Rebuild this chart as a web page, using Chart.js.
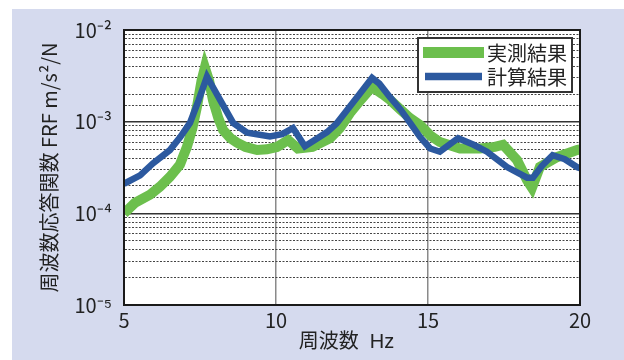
<!DOCTYPE html>
<html>
<head>
<meta charset="utf-8">
<script src="https://cdn.jsdelivr.net/npm/chart.js@4"></script>
<style>
html,body{margin:0;padding:0;background:#fff;}
canvas{display:block;}
</style>
</head>
<body>
<canvas id="c" width="624" height="360"></canvas>
<script>
// ---- data ----
const seriesLabels = ['実測結果', '計算結果'];
const measuredHz = [5.0, 5.36, 5.86, 6.18, 6.51, 6.84, 7.07, 7.25, 7.4, 7.55, 7.66, 7.8, 7.93, 8.1, 8.26, 8.5, 8.72, 9.0, 9.38, 9.7, 10.03, 10.4, 10.72, 11.2, 11.78, 12.1, 12.43, 12.8, 13.16, 13.5, 13.75, 14.1, 14.4, 14.74, 15.07, 15.39, 16.05, 16.71, 17.2, 17.47, 17.93, 18.26, 18.42, 18.68, 19.24, 19.9, 20.0];
const measuredFRF = [1.0e-4, 1.3e-4, 1.6e-4, 1.95e-4, 2.5e-4, 3.4e-4, 5.3e-4, 8.5e-4, 1.45e-3, 2.8e-3, 3.9e-3, 2.8e-3, 1.7e-3, 1.1e-3, 8.1e-4, 6.6e-4, 5.9e-4, 5.3e-4, 4.9e-4, 5.0e-4, 5.3e-4, 6.3e-4, 5.1e-4, 5.3e-4, 6.6e-4, 8.5e-4, 1.24e-3, 1.75e-3, 2.4e-3, 2.0e-3, 1.73e-3, 1.35e-3, 1.1e-3, 9.2e-4, 7.1e-4, 6.0e-4, 5.1e-4, 5.1e-4, 5.3e-4, 5.6e-4, 3.8e-4, 2.3e-4, 1.9e-4, 3.2e-4, 4.1e-4, 4.9e-4, 5.0e-4];
const calcHz = [5.0, 5.53, 5.95, 6.51, 6.85, 7.17, 7.45, 7.73, 7.95, 8.16, 8.59, 9.05, 9.8, 10.2, 10.56, 10.95, 11.3, 11.68, 12.0, 12.34, 12.75, 13.16, 13.4, 13.75, 14.1, 14.41, 14.74, 15.07, 15.39, 15.99, 16.5, 16.94, 17.6, 18.26, 18.45, 18.75, 19.1, 19.5, 19.9, 20.0];
const calcFRF = [2.1e-4, 2.6e-4, 3.5e-4, 4.9e-4, 6.8e-4, 9.7e-4, 1.7e-3, 3.1e-3, 2.3e-3, 1.73e-3, 9.7e-4, 7.6e-4, 6.9e-4, 7.3e-4, 8.5e-4, 5.4e-4, 6.4e-4, 7.7e-4, 9.6e-4, 1.34e-3, 2.0e-3, 3.0e-3, 2.6e-3, 1.85e-3, 1.35e-3, 9.7e-4, 6.8e-4, 5.1e-4, 4.7e-4, 6.6e-4, 5.6e-4, 4.7e-4, 3.2e-4, 2.45e-4, 2.45e-4, 3.3e-4, 4.3e-4, 3.9e-4, 3.2e-4, 3.1e-4];
const xTicks = [5, 10, 15, 20];
const yExponents = [-5, -4, -3, -2];
const yTickLabels = ['10⁻⁵', '10⁻⁴', '10⁻³', '10⁻²'];
const xTitle = '周波数  Hz  ';
const yTitle = '周波数応答関数 FRF m/s²/N';

const GREEN = '#6cbf4d';
const BLUE = '#2c599f';
const LAVENDER = '#d5daee';
const NARROW = '"Liberation Sans Narrow", "Noto Sans CJK JP", sans-serif';
const SANS = '"Liberation Sans", "Noto Sans CJK JP", sans-serif';
const CJK = '"Noto Sans CJK JP", sans-serif';

const toXY = (xs, ys) => xs.map((x, i) => ({x: x, y: ys[i]}));

function yLabel(v) {
  const e = Math.round(Math.log10(v));
  if (Math.abs(v / Math.pow(10, e) - 1) > 1e-6) return '';
  const i = yExponents.indexOf(e);
  return i >= 0 ? yTickLabels[i] : '';
}

const bgPlugin = {
  id: 'bg',
  beforeDraw(chart) {
    const c = chart.ctx, a = chart.chartArea;
    c.save();
    c.fillStyle = '#ffffff';
    c.fillRect(0, 0, chart.width, chart.height);
    c.fillStyle = LAVENDER;
    c.fillRect(12, 9, chart.width - 12, chart.height - 9);
    c.fillStyle = '#ffffff';
    c.fillRect(a.left, a.top, a.right - a.left, a.bottom - a.top);
    c.restore();
  },
  afterDatasetsDraw(chart) {
    const c = chart.ctx, a = chart.chartArea;
    c.save();
    c.strokeStyle = '#1a1a1a';
    c.lineWidth = 2;
    c.strokeRect(a.left, a.top, a.right - a.left, a.bottom - a.top);
    // legend
    const bx = 418, by = 38, bw = 154, bh = 54;
    c.fillStyle = '#ffffff';
    c.fillRect(bx, by, bw, bh);
    c.strokeStyle = '#333';
    c.lineWidth = 2;
    c.strokeRect(bx, by, bw, bh);
    const rows = [52.5, 76.5];
    const starts = [423, 425], ends = [484, 482];
    chart.data.datasets.forEach((ds, i) => {
      c.strokeStyle = ds.borderColor;
      c.lineWidth = ds.borderWidth + 1;
      c.lineCap = 'butt';
      c.beginPath();
      c.moveTo(starts[i], rows[i]);
      c.lineTo(ends[i], rows[i]);
      c.stroke();
      c.fillStyle = '#222';
      c.font = '20px ' + CJK;
      c.textAlign = 'left';
      c.textBaseline = 'middle';
      c.fillText(ds.label, 487, rows[i] + 0.5);
    });
    c.restore();
  }
};

new Chart(document.getElementById('c'), {
  type: 'line',
  data: {
    datasets: [
      {label: seriesLabels[0], data: toXY(measuredHz, measuredFRF), order: 1, borderColor: GREEN, backgroundColor: GREEN, borderWidth: 10, pointRadius: 0, tension: 0, fill: false, borderJoinStyle: 'miter'},
      {label: seriesLabels[1], data: toXY(calcHz, calcFRF), order: 0, borderColor: BLUE, backgroundColor: BLUE, borderWidth: 6.5, pointRadius: 0, tension: 0, fill: false, borderJoinStyle: 'miter'}
    ]
  },
  options: {
    responsive: false,
    animation: false,
    devicePixelRatio: 1,
    layout: {padding: {left: 12, top: 30, right: 44, bottom: 0}},
    plugins: {legend: {display: false}, tooltip: {enabled: false}},
    scales: {
      x: {
        type: 'linear', min: 5, max: 20,
        afterBuildTicks(s) { s.ticks = xTicks.map(v => ({value: v})); },
        afterFit(s) { s.height = 55; },
        ticks: {color: '#222', font: {family: NARROW, size: 20}, padding: 3, maxRotation: 0},
        grid: {color: '#8a8a8a', lineWidth: 1.5, drawTicks: false},
        border: {display: true, color: '#1a1a1a', width: 2},
        title: {display: true, text: xTitle, color: '#222', font: {family: SANS, size: 20}, padding: {top: 0, bottom: 6}}
      },
      y: {
        type: 'logarithmic', min: 1e-5, max: 1e-2,
        afterFit(s) { s.width = 112; },
        ticks: {
          autoSkip: false, color: '#222', font: {family: NARROW, size: 20}, padding: 12,
          callback(v) { return yLabel(v); }
        },
        grid: {
          drawTicks: false,
          color: (ctx) => (ctx.tick && ctx.tick.major) ? '#333' : '#444',
          lineWidth: (ctx) => (ctx.tick && ctx.tick.major) ? 1.5 : 1
        },
        border: {
          display: true, color: '#1a1a1a', width: 2,
          dash: (ctx) => (ctx.tick && !ctx.tick.major) ? [2, 1.5] : []
        },
        title: {display: true, text: yTitle, color: '#222', font: {family: NARROW, size: 20}, padding: {top: 25, bottom: 0}}
      }
    }
  },
  plugins: [bgPlugin]
});
</script>
</body>
</html>
